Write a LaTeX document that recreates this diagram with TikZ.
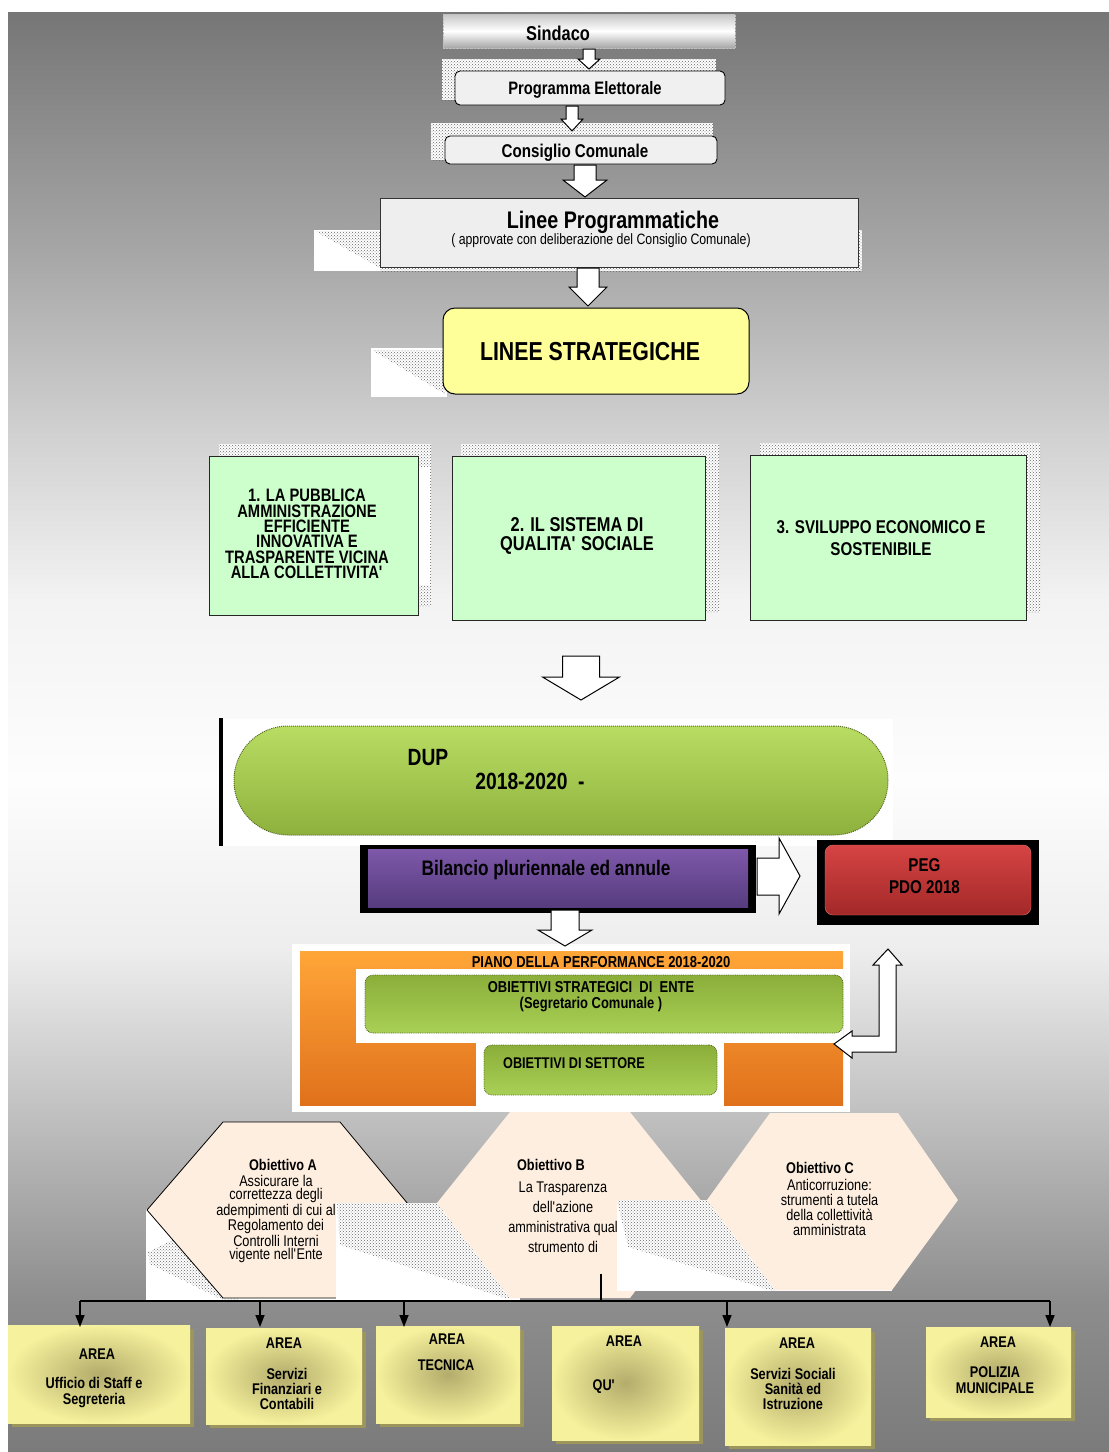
\documentclass[tikz,border=0pt]{standalone}
\usepackage{fontspec}
\setmainfont{Liberation Sans}
\newfontfamily\nar[FakeStretch=0.82]{Liberation Sans}
\usetikzlibrary{patterns,arrows.meta,shadows}
\definecolor{lgreen}{HTML}{CCFFCC}
\definecolor{lyellow}{HTML}{FFFF99}
\definecolor{hexfill}{HTML}{FDEEDF}
\definecolor{dupT}{HTML}{B9DD63}
\definecolor{dupB}{HTML}{8DB13C}
\definecolor{purT}{HTML}{7E58AA}
\definecolor{purB}{HTML}{563C7E}
\definecolor{redT}{HTML}{D64444}
\definecolor{redB}{HTML}{A32828}
\definecolor{orT}{HTML}{FFA638}
\definecolor{orB}{HTML}{E0711C}
\definecolor{grT}{HTML}{8BAE3A}
\definecolor{grB}{HTML}{A9D056}
\definecolor{areaIn}{HTML}{B3AC6C}
\definecolor{areaOut}{HTML}{F6F19C}
\definecolor{areaSh}{HTML}{9C965C}
\definecolor{bgA}{HTML}{767676}
\definecolor{bgB}{HTML}{A6A6A6}
\definecolor{bgC}{HTML}{D0D0D0}
\definecolor{bgD}{HTML}{F3F3F3}
\definecolor{bgE}{HTML}{FDFDFD}
\definecolor{bgF}{HTML}{EDEDED}
\definecolor{bgG}{HTML}{B6B6B6}
\definecolor{bgH}{HTML}{8D8D8D}
\definecolor{bgI}{HTML}{7B7B7B}
\newcommand\fsz[2]{\fontsize{#1}{#2}\selectfont}
\newcommand\bdown[6]{\draw[blk] (#1-#5,#2) -- (#1+#5,#2) -- (#1+#5,#3) -- (#1+#6,#3) -- (#1,#4) -- (#1-#6,#3) -- (#1-#5,#3) -- cycle;}
\newcommand\qs{\textquotesingle}
\begin{document}
\begin{tikzpicture}[x=1pt,y=-1pt,
  blk/.style={fill=white,draw=black,line width=1pt,line join=miter},
  hatch/.style={pattern=crosshatch dots,pattern color=black!60},
  txt/.style={inner sep=0pt,align=center,text=black},
  bb/.style={txt,font=\nar\bfseries\fsz{#1}{#1}},
  gbox/.style={draw=black!85,line width=0.8pt,fill=lgreen,inner sep=0pt},
  gbar/.style={top color=grT,bottom color=grB,draw=grT!60!black,densely dotted,line width=0.8pt,rounded corners=8pt,inner sep=0pt},
  abox/.style={shading=radial,inner color=areaIn,outer color=areaOut,inner sep=0pt,
    drop shadow={shadow xshift=4pt,shadow yshift=-4pt,fill=areaSh,opacity=1}},
  conn/.style={line width=1.6pt,-{Triangle[width=9pt,length=12pt]}}
]
\useasboundingbox (0,0) rectangle (1109,1452);
\fill[white] (0,0) rectangle (1109,1452);
% background bands
\shade[top color=bgA,bottom color=bgB] (8,12) rectangle (1109,251);
\shade[top color=bgB,bottom color=bgC] (8,250) rectangle (1109,431);
\shade[top color=bgC,bottom color=bgD] (8,430) rectangle (1109,601);
\shade[top color=bgD,bottom color=bgE] (8,600) rectangle (1109,781);
\shade[top color=bgE,bottom color=bgF] (8,780) rectangle (1109,951);
\shade[top color=bgF,bottom color=bgG] (8,950) rectangle (1109,1151);
\shade[top color=bgG,bottom color=bgH] (8,1150) rectangle (1109,1301);
\shade[top color=bgH,bottom color=bgI] (8,1300) rectangle (1109,1452);

% shadows of the top boxes
\fill[white] (442,59) rectangle (716,100);
\fill[hatch] (442,59) rectangle (716,100);
\fill[white] (431,123) rectangle (713,160);
\fill[hatch] (431,123) rectangle (713,160);

% Sindaco
\node[draw=gray!50,densely dotted,top color=gray!45,bottom color=gray!70,middle color=white,minimum width=292pt,minimum height=34pt,inner sep=0pt] (sind) at (589,31) {};
\node[bb=20] (sindT) at (558,33) {Sindaco};
\bdown{589}{49}{59}{69}{6}{11}

% Programma Elettorale
\node[draw=black,line width=0.9pt,fill=gray!12,rounded corners=5pt,minimum width=270pt,minimum height=34pt,inner sep=0pt] (prog) at (590,88) {};
\node[bb=18] (progT) at (585,90) {Programma Elettorale};
\bdown{572}{106}{119}{131}{6}{11}

% Consiglio Comunale
\node[draw=black,line width=0.9pt,fill=gray!12,rounded corners=5pt,minimum width=272pt,minimum height=28pt,inner sep=0pt] (cons) at (581,150) {};
\node[bb=18.5] (consT) at (575,153) {Consiglio Comunale};
\bdown{585}{165}{180}{197}{11}{22}

% Linee Programmatiche
\fill[white] (314,230) rectangle (862,271);
\fill[hatch] (315,231) -- (380,231) -- (380,268) -- cycle;
\fill[hatch] (380,267) rectangle (862,271);
\fill[hatch] (858,230) rectangle (862,271);
\node[draw=gray!40!black,line width=0.7pt,fill=gray!13,minimum width=478pt,minimum height=69pt,inner sep=0pt] (lp) at (619,232.5) {};
\node[bb=24] (lpT) at (613,222) {Linee Programmatiche};
\node[txt,font=\nar\fsz{15}{15}] (lpS) at (601,241) {( approvate con deliberazione del Consiglio Comunale)};
\bdown{588}{268}{287}{306}{11}{19}

% Linee Strategiche
\fill[white] (371,348) rectangle (447,397);
\fill[hatch] (372,350) -- (445,350) -- (445,394) -- cycle;
\node[draw=black,line width=1pt,fill=lyellow,rounded corners=12pt,minimum width=306pt,minimum height=86pt,inner sep=0pt] (ls) at (596,351) {};
\node[bb=26] (lsT) at (590,352) {LINEE STRATEGICHE};

% Three strategic boxes
\fill[white] (219,444) rectangle (431,606);
\fill[hatch] (219,444) rectangle (431,606);
\fill[white] (419,467) rectangle (430,585);
\node[gbox,minimum width=209pt,minimum height=159pt] (g1) at (313.5,535.5) {};
\node[txt,font=\nar\bfseries\fsz{18}{15.4}] (g1T) at (307,534) {1. LA PUBBLICA\\AMMINISTRAZIONE\\EFFICIENTE\\INNOVATIVA E\\TRASPARENTE VICINA\\ALLA COLLETTIVITA\qs};

\fill[white] (461,444) rectangle (719,612);
\fill[hatch] (461,444) rectangle (719,612);
\node[gbox,minimum width=253pt,minimum height=164pt] (g2) at (578.5,538) {};
\node[txt,font=\nar\bfseries\fsz{20}{19}] (g2T) at (577,536) {2. IL SISTEMA DI\\QUALITA\qs{} SOCIALE};

\fill[white] (760,443) rectangle (1040,612);
\fill[hatch] (760,443) rectangle (1040,612);
\node[gbox,minimum width=276pt,minimum height=165pt] (g3) at (888,537.5) {};
\node[txt,font=\nar\bfseries\fsz{18.5}{22}] (g3T) at (881,538) {3. SVILUPPO ECONOMICO E\\SOSTENIBILE};

% big arrow
\bdown{581}{656}{677}{700}{18.5}{38.5}

% DUP
\fill[white] (222,719) rectangle (893,846);
\draw[line width=4pt] (221,718) -- (221,846);
\node[top color=dupT,bottom color=dupB,draw=dupB!60!black,densely dotted,line width=1pt,rounded corners=54pt,minimum width=654pt,minimum height=109pt,inner sep=0pt] (dup) at (561,780.5) {};
\node[bb=23.5] (dupT1) at (428,758) {DUP};
\node[bb=23.5] (dupT2) at (530,781) {2018-2020\ \ -};

% Bilancio
\node[fill=black,minimum width=396pt,minimum height=68pt,inner sep=0pt] (bilO) at (558,879) {};
\node[top color=purT,bottom color=purB,minimum width=380pt,minimum height=58pt,inner sep=0pt] (bil) at (558,878) {};
\node[bb=21] (bilT) at (546,870) {Bilancio pluriennale ed annule};

% arrow to PEG
\draw[blk] (757,858) -- (779,858) -- (779,838) -- (800,876) -- (779,914) -- (779,895) -- (757,895) -- cycle;

% PEG
\node[fill=black,minimum width=222pt,minimum height=85pt,inner sep=0pt] (pegO) at (928,882.5) {};
\node[top color=redT,bottom color=redB,draw=redT!75!white,rounded corners=8pt,minimum width=206pt,minimum height=70pt,inner sep=0pt] (peg) at (928,880) {};
\node[txt,font=\nar\bfseries\fsz{18.5}{22}] (pegT) at (924.5,876) {PEG\\PDO 2018};

% Hexagons
\fill[white] (146,1209) rectangle (337,1300);
\fill[hatch] (148,1252) -- (180,1236) -- (240,1300) -- (223,1300) -- (150,1264) -- cycle;
\path[fill=hexfill,draw=black,line width=0.8pt] (223,1122) -- (340,1122) -- (413,1210) -- (340,1298) -- (223,1298) -- (147,1210) -- cycle;
\node[txt,font=\nar\bfseries\fsz{15.5}{15.5}] (hAt) at (283,1165) {Obiettivo A};
\node[txt,font=\nar\fsz{15.5}{13.4}] (hAb) at (276,1219) {Assicurare la\\correttezza degli\\adempimenti di cui al\\Regolamento dei\\Controlli Interni\\vigente nell\qs Ente};

\fill[white] (336,1203) rectangle (520,1300);
\fill[hatch] (337,1203) -- (437,1203) -- (510,1298) -- (505,1298) -- (340,1245) -- cycle;
\fill[hexfill] (510,1112) -- (630,1112) -- (703,1203) -- (630,1298) -- (510,1298) -- (437,1203) -- cycle;
\node[txt,font=\nar\bfseries\fsz{15.5}{15.5}] (hBt) at (551,1165) {Obiettivo B};
\node[txt,font=\nar\fsz{15.5}{20}] (hBb) at (563,1217) {La Trasparenza\\dell\qs azione\\amministrativa qual\\strumento di};
\coordinate (hBs) at (601,1274);

\fill[white] (617,1200) rectangle (892,1291);
\fill[hatch] (617,1200) -- (707,1200) -- (775,1290) -- (770,1290) -- (628,1247) -- cycle;
\fill[hexfill] (770,1113) -- (898,1113) -- (958,1200) -- (892,1290) -- (775,1290) -- (707,1200) -- cycle;
\node[txt,font=\nar\bfseries\fsz{15.5}{15.5}] (hCt) at (820,1168) {Obiettivo C};
\node[txt,font=\nar\fsz{15.5}{15}] (hCb) at (829.5,1207) {Anticorruzione:\\strumenti a tutela\\della collettività\\amministrata};

% Piano della performance
\fill[white] (292,944) rectangle (850,1112);
\node[top color=orT,bottom color=orB,minimum width=543pt,minimum height=154pt,inner sep=0pt] (piano) at (571.5,1028) {};
\fill[white] (356,969) rectangle (843,1043);
\fill[white] (476,1043) rectangle (724,1112);
\node[bb=15.8] (pianoT) at (601,962) {PIANO DELLA PERFORMANCE 2018-2020};
\node[gbar,minimum width=478pt,minimum height=58pt] (os) at (604,1004) {};
\node[txt,font=\nar\bfseries\fsz{15.8}{16}] (osT) at (591,997) {OBIETTIVI STRATEGICI\ \ DI\ \ ENTE\\(Segretario Comunale )};
\node[gbar,minimum width=233pt,minimum height=50pt] (set) at (600.5,1070) {};
\node[bb=15.5] (setT) at (574,1063) {OBIETTIVI DI SETTORE};

% arrow down to Piano
\bdown{565}{910}{930}{946}{14}{27}

% L arrow to PEG
\draw[blk] (888,949) -- (902,965) -- (896,965) -- (896,1052) -- (852,1052) -- (852,1058) -- (834,1044) -- (852,1031) -- (852,1036) -- (879,1036) -- (879,965) -- (873,965) -- cycle;

% Tree connectors
\coordinate (busM) at (601,1301);
\coordinate (b1) at (80,1301);  \coordinate (t1) at (80,1327);
\coordinate (b2) at (260,1301); \coordinate (t2) at (260,1327);
\coordinate (b3) at (404,1301); \coordinate (t3) at (404,1327);
\coordinate (b5) at (727,1301); \coordinate (t5) at (727,1327);
\coordinate (b6) at (1050,1301); \coordinate (t6) at (1050,1327);
\draw[line width=2.5pt] (hBs) -- (busM);
\draw[line width=2.5pt] (b1) -- (b6);

% Area boxes
\node[abox,minimum width=182pt,minimum height=98pt] (a1) at (99,1374) {};
\node[abox,minimum width=156pt,minimum height=96pt] (a2) at (284,1376) {};
\node[abox,minimum width=144pt,minimum height=97pt] (a3) at (448,1374.5) {};
\node[abox,minimum width=147pt,minimum height=114pt] (a4) at (625.5,1383) {};
\node[abox,minimum width=146pt,minimum height=117pt] (a5) at (798,1386.5) {};
\node[abox,minimum width=145pt,minimum height=90pt] (a6) at (998.5,1372) {};

\draw[conn] (b1) -- (t1);
\draw[conn] (b2) -- (t2);
\draw[conn] (b3) -- (t3);
\draw[conn] (b5) -- (t5);
\draw[conn] (b6) -- (t6);

\node[bb=15.5] (a1h) at (97,1354) {AREA};
\node[txt,font=\nar\bfseries\fsz{15.5}{16}] (a1t) at (94,1393) {Ufficio di Staff e\\Segreteria};
\node[bb=15.5] (a2h) at (284,1343) {AREA};
\node[txt,font=\nar\bfseries\fsz{15.5}{15}] (a2t) at (287,1389) {Servizi\\Finanziari e\\Contabili};
\node[bb=15.5] (a3h) at (447,1339) {AREA};
\node[bb=15.5] (a3t) at (446,1365) {TECNICA};
\node[bb=15.5] (a4h) at (624,1341) {AREA};
\node[bb=15.5] (a4t) at (604,1387) {QU\qs};
\node[bb=15.5] (a5h) at (797,1343) {AREA};
\node[txt,font=\nar\bfseries\fsz{15.5}{15}] (a5t) at (793,1389) {Servizi Sociali\\Sanità ed\\Istruzione};
\node[bb=15.5] (a6h) at (998,1342) {AREA};
\node[txt,font=\nar\bfseries\fsz{15.5}{16}] (a6t) at (995,1380) {POLIZIA\\MUNICIPALE};
\end{tikzpicture}
\end{document}
